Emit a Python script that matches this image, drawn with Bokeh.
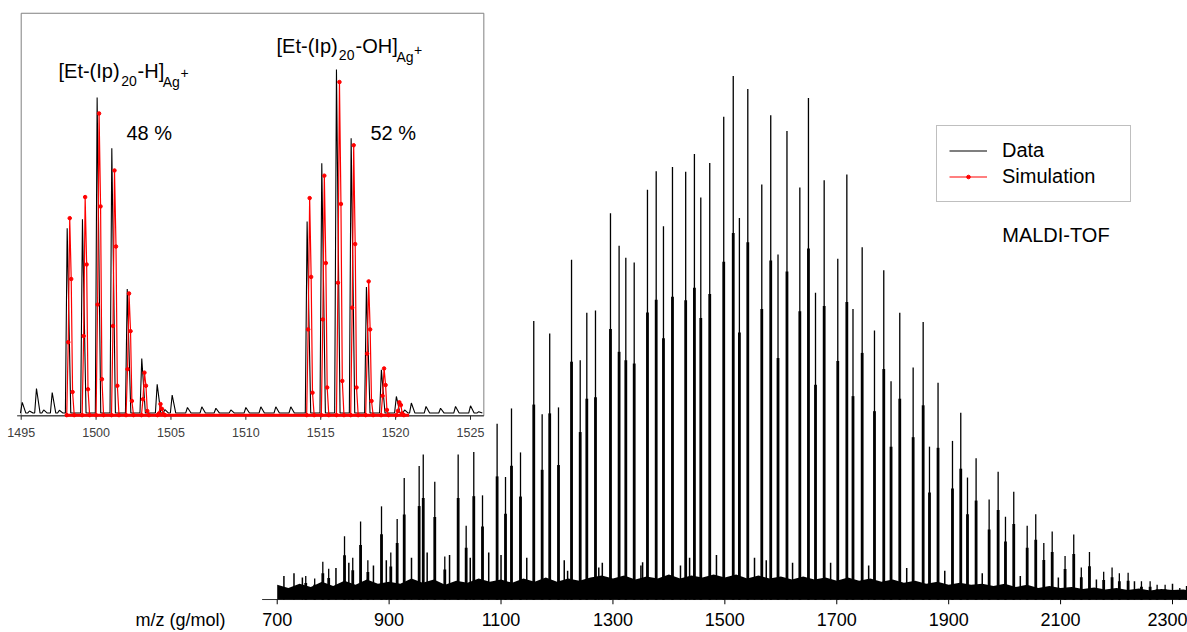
from bokeh.plotting import figure
from bokeh.models import Range1d, FixedTicker, Legend, LegendItem, Label
from bokeh.core.properties import value
from bokeh.embed import file_html
from bokeh.resources import INLINE

# ---------------- main MALDI-TOF spectrum (m/z, relative intensity) ----------------
# four end-group series, one peak every isoprene unit
h_mz = [751, 820.3, 886.4, 953.7, 1023.4, 1093, 1158.5, 1226, 1295.6, 1361.7, 1430, 1498,
        1566, 1634, 1701.8, 1767.4, 1836.5, 1906.8, 1972.3, 2040.3, 2108, 2177, 2244.5, 2313]
h_int = [4.5, 12.1, 17.8, 25.5, 27.7, 33.6, 53.2, 64.9, 73.8, 78.3, 81.7, 92.2,
         79.3, 78.7, 65.1, 51.4, 44.3, 30.3, 19.1, 14.1, 8.3, 5.3, 3.5, 2.2]
oh_mz = [767, 835, 903, 961, 1037.7, 1108, 1173.5, 1241.5, 1311, 1377.3, 1445.6, 1515,
         1582, 1649.4, 1718, 1784, 1854.4, 1921.6, 1988.4, 2055.6, 2123.5, 2192, 2260, 2325]
oh_int = [4.0, 8.0, 9.0, 27.7, 14.1, 23.4, 35.4, 45.7, 67.6, 81.8, 85.1, 100.0,
          92.5, 95.8, 81.2, 62.9, 53.0, 35.7, 24.4, 16.3, 12.4, 6.1, 3.5, 2.6]
a_mz = [781.5, 849, 914.4, 981.6, 1051.3, 1118.7, 1187, 1253.3, 1323, 1390.3, 1457, 1526,
        1595, 1662, 1729, 1797, 1865.7, 1933.6, 2001.5, 2070, 2137, 2205, 2272.5]
a_int = [7.2, 14.9, 15.4, 22.5, 28.2, 36.5, 50.8, 54.8, 65.3, 71.3, 76.8, 72.9,
         65.9, 58.6, 55.5, 41.7, 29.2, 23.3, 15.8, 10.8, 6.1, 5.0, 2.8]
b_mz = [792, 862, 927, 999.5, 1066.9, 1134.8, 1202.7, 1268.8, 1338, 1406.4, 1473, 1541,
        1611, 1677.5, 1745.4, 1812.6, 1881, 1949, 2016.3, 2085, 2151.6, 2220.7, 2286.8]
b_int = [5.9, 7.5, 23.2, 8.2, 19.9, 28.1, 36.7, 55.2, 64.4, 82.6, 83.4, 97.5,
         89.5, 80.1, 67.3, 54.8, 41.4, 27.0, 20.6, 13.0, 9.1, 5.1, 2.8]
minor_mz = [712, 730, 745, 805, 828, 872, 895, 940, 968, 1008, 1045, 1078, 1100, 1146, 1213,
            1219, 1274.7, 1281, 1350, 1353, 1420.7, 1437, 1485, 1553, 1574, 1621, 1689, 1757,
            1825, 1893, 1960, 2028, 2096, 2164, 2232, 2300]
minor_int = [4.5, 5.0, 4.2, 6.0, 7.0, 6.5, 7.5, 8.0, 9.0, 8.5, 8.0, 9.0, 8.5, 8.0, 7.5,
             5.5, 6.1, 7.0, 6.5, 7.1, 6.5, 8.0, 8.5, 8.0, 7.5, 7.0, 7.0, 6.5,
             6.0, 5.5, 5.0, 4.5, 4.2, 3.8, 3.5, 3.0]
noise_mz = [700, 720, 740, 760, 780, 800, 820, 840, 860, 880, 900, 920, 940, 960, 980, 1000,
            1020, 1040, 1060, 1080, 1100, 1120, 1140, 1160, 1180, 1200, 1220, 1240, 1260, 1280,
            1300, 1320, 1340, 1360, 1380, 1400, 1420, 1440, 1460, 1480, 1500, 1520, 1540, 1560,
            1580, 1600, 1620, 1640, 1660, 1680, 1700, 1720, 1740, 1760, 1780, 1800, 1820, 1840,
            1860, 1880, 1900, 1920, 1940, 1960, 1980, 2000, 2020, 2040, 2060, 2080, 2100, 2120,
            2140, 2160, 2180, 2200, 2220, 2240, 2260, 2280, 2300, 2320, 2330]
noise_int = [2.8, 2.2, 3.0, 2.4, 3.4, 2.6, 3.6, 2.8, 3.8, 3.0,
             3.4, 3.0, 4.0, 3.2, 3.8, 2.8, 3.6, 3.2, 4.0, 3.4,
             3.8, 3.2, 4.0, 3.4, 4.2, 3.4, 4.0, 3.6, 4.2, 4.6,
             4.0, 4.6, 3.8, 4.4, 4.0, 4.8, 4.0, 4.6, 4.2, 4.8,
             4.2, 4.8, 4.0, 4.6, 4.0, 4.4, 3.8, 4.4, 3.8, 4.2,
             3.6, 4.2, 3.6, 4.0, 3.4, 3.8, 3.2, 3.6, 3.0, 3.4,
             2.8, 3.2, 2.8, 3.0, 2.6, 3.0, 2.4, 2.8, 2.2, 2.6,
             2.2, 2.4, 2.0, 2.3, 1.9, 2.2, 1.8, 2.1, 1.7, 2.0,
             1.8, 1.9, 1.7]
main_ticks = [700, 900, 1100, 1300, 1500, 1700, 1900, 2100, 2300]
label_tick = 527          # where the axis title "m/z (g/mol)" sits on the axis

# ---------------- inset: zoom 1495-1526 ----------------
inset_mz = [1495.07, 1495.55, 1496.02, 1496.5, 1497.07, 1497.55, 1498.07, 1499.09, 1500.07,
            1501.05, 1502.08, 1503.05, 1504.08, 1504.6, 1505.08, 1506.1, 1507.06, 1508.0,
            1509.0, 1510.0, 1511.0, 1512.0, 1513.0, 1514.09, 1515.07, 1516.05, 1517.03,
            1518.05, 1519.05, 1520.05, 1520.6, 1521.05, 1522.03, 1523.0, 1524.0, 1525.0, 1525.55]
inset_int = [3.7, 1.2, 7.7, 1.5, 6.5, 1.4, 54.1, 56.7, 91.9,
             77.2, 36.5, 16.4, 8.9, 1.6, 5.8, 2.2, 2.4, 2.0,
             1.5, 2.2, 2.4, 2.4, 2.4, 56.0, 72.9, 100.0, 80.1,
             37.1, 13.1, 5.4, 1.5, 3.5, 2.5, 2.0, 2.5, 2.7, 1.0]
sim_mz = [1498.24, 1499.27, 1500.20, 1501.23, 1502.20, 1503.23, 1504.30,
          1514.26, 1515.24, 1516.25, 1517.20, 1518.20, 1519.23, 1520.25]
sim_top = [57.0, 63.1, 87.3, 70.8, 35.2, 12.3, 3.2, 62.8, 69.3, 96.4, 78.1, 38.7, 13.5, 3.7]
sim_left = [21.1, 22.9, 32.0, 25.8, 13.3, 4.6, 0.5, 24.8, 27.7, 38.3, 31.1, 17.8, 5.6, 1.2]
sim_right = [39.4, 43.6, 60.4, 48.8, 24.3, 8.5, 1.8, 40.0, 44.0, 61.1, 49.5, 24.8, 8.7, 2.9]
sim_tail = [6.7, 7.5, 10.4, 8.5, 4.1, 1.2, 0.3, 6.5, 8.0, 9.9, 8.0, 4.1, 1.5, 0.5]
inset_ticks = [1495, 1500, 1505, 1510, 1515, 1520, 1525]

FONT = "Liberation Sans"

p = figure(width=1187, height=632, output_backend="svg", toolbar_location=None,
           x_range=Range1d(205.5, 2326.8), y_range=Range1d(-0.952, 114.43),
           x_axis_location="below", y_axis_location=None, min_border=0,
           outline_line_color=None, background_fill_color="white")
p.xgrid.visible = False
p.ygrid.visible = False
p.extra_x_ranges = {"ix": Range1d(1493.618, 1572.873)}
p.extra_y_ranges = {"iy": Range1d(-54.80, 119.99)}

ax = p.xaxis[0]
ax.ticker = FixedTicker(ticks=[label_tick] + main_ticks)
ax.major_label_overrides = {label_tick: "m/z (g/mol)"}
ax.axis_line_color = None
ax.major_tick_out = 0
ax.major_tick_in = 0
ax.minor_tick_out = 0
ax.minor_tick_in = 0
ax.major_label_text_font = FONT
ax.major_label_text_font_size = "18px"
ax.major_label_text_color = "black"
ax.major_label_standoff = 5

# axis line stub and outward tick marks of the main axis
p.segment(x0=[673], y0=[0], x1=[2330], y1=[0], line_color="#333333", line_width=1)
p.segment(x0=main_ticks, y0=[0] * len(main_ticks), x1=main_ticks, y1=[-0.952] * len(main_ticks),
          line_color="black", line_width=1)

# main spectrum
p.varea(x=noise_mz, y1=0, y2=noise_int, fill_color="black")
p.segment(x0=minor_mz, y0=[0] * len(minor_mz), x1=minor_mz, y1=minor_int,
          line_color="black", line_width=1.5)
for mz, it in [(h_mz, h_int), (oh_mz, oh_int), (a_mz, a_int), (b_mz, b_int)]:
    p.segment(x0=mz, y0=[0] * len(mz), x1=mz, y1=it, line_color="black", line_width=1.3)
    p.segment(x0=mz, y0=[0] * len(mz), x1=mz, y1=[0.7 * v for v in it],
              line_color="black", line_width=2.8)

# inset frame and axis
p.quad(left=1495, right=1525.89, bottom=-0.2, top=116.3, fill_color=None,
       line_color="#808080", line_width=1, x_range_name="ix", y_range_name="iy")
p.segment(x0=[1494.73], y0=[-0.2], x1=[1525.89], y1=[-0.2], line_color="#222222",
          line_width=1, x_range_name="ix", y_range_name="iy")
p.segment(x0=inset_ticks, y0=[-0.2] * len(inset_ticks), x1=inset_ticks,
          y1=[-1.35] * len(inset_ticks), line_color="#222222", line_width=1,
          x_range_name="ix", y_range_name="iy")
p.text(x=inset_ticks, y=[-5.13] * len(inset_ticks), text=[str(t) for t in inset_ticks],
       text_font=value(FONT), text_font_size="12.5px", text_color="#404040",
       text_align="center", text_baseline="middle", x_range_name="ix", y_range_name="iy")

# inset data (black) and simulation (red)
bx, by = [], []
for c, h in zip(inset_mz, inset_int):
    bx += [c - 0.12, c, c + 0.24]
    by += [0.6, h, 0.6]
data_r = p.line(bx, by, line_color="black", line_width=1.1, x_range_name="ix", y_range_name="iy")

sx, sy = [], []
for c, h, l, r, t in zip(sim_mz, sim_top, sim_left, sim_right, sim_tail):
    sx += [c - 0.2, c - 0.1, c, c + 0.1, c + 0.19, c + 0.3]
    sy += [0, l, h, r, t, 0]
p.segment(x0=[sx[0] - 0.1], y0=[0], x1=[sx[-1] + 0.35], y1=[0], line_color="red",
          line_width=3, x_range_name="ix", y_range_name="iy")
sim_line = p.line(sx, sy, line_color="red", line_width=1.2, x_range_name="ix", y_range_name="iy")
sim_pts = p.scatter(sx, sy, marker="circle", size=3.5, fill_color="red", line_color="red",
                    x_range_name="ix", y_range_name="iy")

# inset annotations
big = dict(text_font=value(FONT), text_font_size="20px", text_color="black",
           text_align="left", text_baseline="alphabetic", x_range_name="ix", y_range_name="iy")
small = dict(big, text_font_size="14px")
p.text(x=[1497.49, 1502.77, 1512.05, 1517.32, 1502.03, 1518.32],
       y=[99.5, 99.5, 106.7, 106.7, 81.7, 81.7],
       text=["[Et-(Ip)", "-H]", "[Et-(Ip)", "-OH]", "48 %", "52 %"], **big)
p.text(x=[1501.68, 1504.45, 1505.64, 1516.21, 1520.06, 1521.23],
       y=[96.6, 96.4, 98.9, 104.1, 103.7, 105.6],
       text=["20", "Ag", "+", "20", "Ag", "+"], **small)

# legend
legend = Legend(items=[LegendItem(label="Data", renderers=[data_r]),
                       LegendItem(label="Simulation", renderers=[sim_line, sim_pts])],
                location=(936, 402), orientation="vertical",
                border_line_color="#808080", border_line_width=1,
                background_fill_color="white", background_fill_alpha=1.0,
                label_text_font=FONT, label_text_font_size="20px", label_text_color="black",
                glyph_width=38, glyph_height=9, label_height=25, label_width=116,
                label_standoff=15, padding=12, spacing=1, margin=0)
p.add_layout(legend)

p.add_layout(Label(x=1995.7, y=69.7, text="MALDI-TOF", text_font=FONT, text_color="black",
                   text_font_size="20px", text_align="left", text_baseline="alphabetic"))

open("out.html", "w").write(file_html(p, INLINE))
